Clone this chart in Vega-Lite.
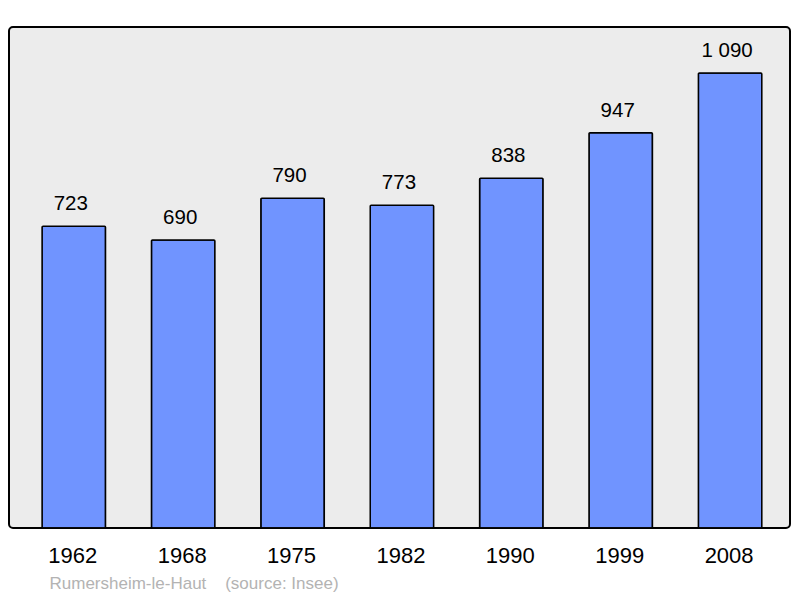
{
  "$schema": "https://vega.github.io/schema/vega-lite/v6.json",
  "width": 781,
  "height": 501,
  "autosize": "none",
  "padding": {"left": 9, "top": 27, "right": 10, "bottom": 70},
  "background": "white",
  "data": {
    "values": [
      {"year": "1962", "pop": 723, "label": "723"},
      {"year": "1968", "pop": 690, "label": "690"},
      {"year": "1975", "pop": 790, "label": "790"},
      {"year": "1982", "pop": 773, "label": "773"},
      {"year": "1990", "pop": 838, "label": "838"},
      {"year": "1999", "pop": 947, "label": "947"},
      {"year": "2008", "pop": 1090, "label": "1 090"}
    ]
  },
  "encoding": {
    "x": {
      "field": "year",
      "type": "ordinal",
      "scale": {"paddingInner": 0.42, "paddingOuter": 0.28, "align": 0.54},
      "axis": {
        "domain": false,
        "ticks": false,
        "labelAngle": 0,
        "labelFontSize": 22,
        "labelColor": "black",
        "labelPadding": 17,
        "labelFont": "Liberation Sans",
        "labelOffset": -1,
        "title": "Rumersheim-le-Haut\u00a0\u00a0\u00a0\u00a0(source: Insee)",
        "titleFont": "Liberation Sans",
        "titleFontWeight": "normal",
        "titleFontSize": 17,
        "titleColor": "#b3b3b3",
        "titleAnchor": "start",
        "titleAlign": "left",
        "titleBaseline": "middle",
        "titleX": 40,
        "titleY": 55
      }
    },
    "y": {
      "field": "pop",
      "type": "quantitative",
      "scale": {"domain": [0, 1200], "nice": false},
      "axis": null
    }
  },
  "layer": [
    {
      "mark": {"type": "bar", "color": "#7094ff", "stroke": "black", "strokeWidth": 1.5, "cornerRadius": 1}
    },
    {
      "mark": {"type": "text", "baseline": "bottom", "dx": -3, "dy": -12, "fontSize": 20.5, "font": "Liberation Sans", "color": "black"},
      "encoding": {"text": {"field": "label"}}
    }
  ],
  "config": {
    "view": {"fill": "#ececec", "stroke": "black", "strokeWidth": 2, "cornerRadius": 4}
  }
}
